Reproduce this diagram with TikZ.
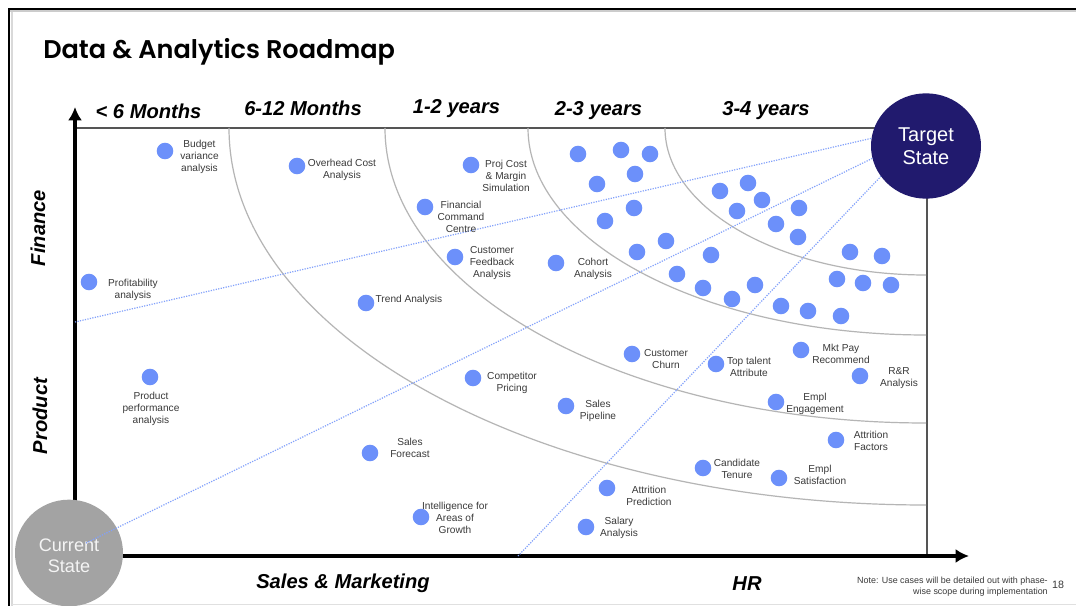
\documentclass[tikz,border=0pt]{standalone}
\usepackage{fontspec}
\setmainfont{Liberation Sans}
\newfontfamily\titlefont{Poppins SemiBold}[UprightFont=*]
\usetikzlibrary{arrows.meta,shapes.geometric}
\definecolor{dotblue}{HTML}{6C90FA}
\definecolor{navy}{HTML}{211A6E}
\definecolor{arcgrey}{HTML}{B5B5B5}
\definecolor{curgrey}{HTML}{A3A3A3}
\definecolor{edgegrey}{HTML}{555555}
\definecolor{lbl}{HTML}{3A3A3A}
\tikzset{
  usedot/.style={circle,fill=dotblue,inner sep=0pt,minimum size=12.4pt},
  usetext/.style={align=center,inner sep=0pt,text=lbl,yshift=-0.8pt,font=\fontsize{7.6}{9.2}\selectfont},
  head/.style={inner sep=0pt,font=\fontsize{15.1}{17}\selectfont\bfseries\itshape},
  band/.style={draw=arcgrey,line width=0.9pt},
  path/.style={draw=dotblue!85,line width=0.9pt,densely dotted},
  axis/.style={line width=2.8pt,-{Latex[length=10pt,width=10.5pt]}},
  state/.style={ellipse,inner sep=0pt,align=center}
}
\begin{document}
\begin{tikzpicture}[x=0.75pt,y=-0.75pt]
\useasboundingbox (0,0) rectangle (1076,606);
\fill[white] (0,0) rectangle (1076,606);
% frame
\draw[black!15,line width=1.2pt] (12,10) -- (12,606);
\draw[black!12,line width=1.2pt] (12,604.5) -- (1076,604.5);
\draw[black!20,line width=1.2pt] (10,11) -- (1076,11);
\draw[black,line width=1.5pt] (9,606) -- (9,9) -- (1076,9);
\node[inner sep=0pt,anchor=base west,font=\fontsize{19.2}{24}\selectfont\titlefont] (title) at (43,59) {Data \& Analytics Roadmap};
% region
\coordinate (o) at (75,556);
\coordinate (tl) at (75,128);
\coordinate (tr) at (880,128);
\coordinate (br) at (927,556);
\coordinate (rt) at (927,190);
\draw[edgegrey,line width=1pt] (tl) -- (tr);
\draw[edgegrey,line width=1pt] (rt) -- (br);
% bands
\draw[band] (229,128) arc[start angle=180,end angle=90,x radius=697,y radius=377];
\draw[band] (385,128) arc[start angle=180,end angle=90,x radius=541,y radius=295];
\draw[band] (528,128) arc[start angle=180,end angle=90,x radius=398,y radius=207];
\draw[band] (665,128) arc[start angle=180,end angle=90,x radius=261,y radius=147];
% axes
\draw[axis] (o) -- (75,107);
\draw[axis] (o) -- (969,556);
% headers
\node[head] (h1) at (148.5,111) {< 6 Months};
\node[head] (h2) at (303,108) {6-12 Months};
\node[head] (h3) at (456.5,109) {1-2 years};
\node[head] (h4) at (598.5,110.5) {2-3 years};
\node[head] (h5) at (766,110.5) {3-4 years};
\node[head,rotate=90] (a1) at (38,228) {Finance};
\node[head,rotate=90] (a2) at (40,416) {Product};
\node[head] (a3) at (343,583) {Sales \& Marketing};
\node[head] (a4) at (747,584) {HR};
% state circles
\node[state,fill=navy,text=white,font=\fontsize{15}{17.5}\selectfont,minimum width=82.5pt,minimum height=79pt] (target) at (926,146) {Target\\State};
\node[state,fill=curgrey,minimum width=81pt,minimum height=80pt] (current) at (69,553) {};
\node[inner sep=0pt,align=center,text=white!88!curgrey,font=\fontsize{13.6}{16}\selectfont] (currenttext) at (69,556) {Current\\State};
% dotted paths
\coordinate (p1) at (75,322);
\coordinate (p2) at (86,543);
\coordinate (p3) at (518,556);
\draw[path] (p1) -- (target.172);
\draw[path] (p2) -- (target.193);
\draw[path] (p3) -- (target.214);
% unlabelled dots
\foreach \x/\y [count=\i] in {578/154,621/150,650/154,635/174,597/184,634/208,605/221,637/252,666/241,711/255,677/274,703/288,732/299,755/285,781/306,808/311,841/316,720/191,748/183,762/200,737/211,799/208,776/224,798/237,850/252,882/256,837/279,863/283,891/285}
  \node[usedot] (u\i) at (\x,\y) {};
% labelled dots
\node[usedot] (d1) at (165,151) {};
\node[usetext] (t1) at (199.5,156) {Budget\\variance\\analysis};
\node[usedot] (d2) at (297,166) {};
\node[usetext] (t2) at (342,169) {Overhead Cost\\Analysis};
\node[usedot] (d3) at (471,165) {};
\node[usetext] (t3) at (506,175) {Proj Cost\\\& Margin\\Simulation};
\node[usedot] (d4) at (425,207) {};
\node[usetext] (t4) at (461,216) {Financial\\Command\\Centre};
\node[usedot] (d5) at (455,257) {};
\node[usetext] (t5) at (492,262) {Customer\\Feedback\\Analysis};
\node[usedot] (d6) at (556,263) {};
\node[usetext] (t6) at (593,268) {Cohort\\Analysis};
\node[usedot] (d7) at (89,282) {};
\node[usetext] (t7) at (133,289) {Profitability\\analysis};
\node[usedot] (d8) at (366,303) {};
\node[usetext] (t8) at (409,299) {Trend Analysis};
\node[usedot] (d9) at (150,377) {};
\node[usetext] (t9) at (151,408) {Product\\performance\\analysis};
\node[usedot] (d10) at (473,378) {};
\node[usetext] (t10) at (512,382) {Competitor\\Pricing};
\node[usedot] (d11) at (632,354) {};
\node[usetext] (t11) at (666,358) {Customer\\Churn};
\node[usedot] (d12) at (716,364) {};
\node[usetext] (t12) at (749,366) {Top talent\\Attribute};
\node[usedot] (d13) at (801,350) {};
\node[usetext] (t13) at (841,353) {Mkt Pay\\Recommend};
\node[usedot] (d14) at (860,376) {};
\node[usetext] (t14) at (899,377) {R\&R\\Analysis};
\node[usedot] (d15) at (776,402) {};
\node[usetext] (t15) at (815,403) {Empl\\Engagement};
\node[usedot] (d16) at (566,406) {};
\node[usetext] (t16) at (598,410) {Sales\\Pipeline};
\node[usedot] (d17) at (836,440) {};
\node[usetext] (t17) at (871,440) {Attrition\\Factors};
\node[usedot] (d18) at (703,468) {};
\node[usetext] (t18) at (737,468) {Candidate\\Tenure};
\node[usedot] (d19) at (779,478) {};
\node[usetext] (t19) at (820,474) {Empl\\Satisfaction};
\node[usedot] (d20) at (370,453) {};
\node[usetext] (t20) at (410,447) {Sales\\Forecast};
\node[usedot] (d21) at (607,488) {};
\node[usetext] (t21) at (649,495) {Attrition\\Prediction};
\node[usedot] (d22) at (421,517) {};
\node[usetext] (t22) at (455,517) {Intelligence for\\Areas of\\Growth};
\node[usedot] (d23) at (586,527) {};
\node[usetext] (t23) at (619,527) {Salary\\Analysis};
% note
\node[inner sep=0pt,align=right,anchor=east,text=lbl,font=\fontsize{6.7}{8.2}\selectfont] (note) at (1048,586.5) {Note: Use cases will be detailed out with phase-\\wise scope during implementation};
\node[inner sep=0pt,text=lbl,font=\fontsize{8}{9}\selectfont] (pg) at (1058,584.5) {18};
\end{tikzpicture}
\end{document}
